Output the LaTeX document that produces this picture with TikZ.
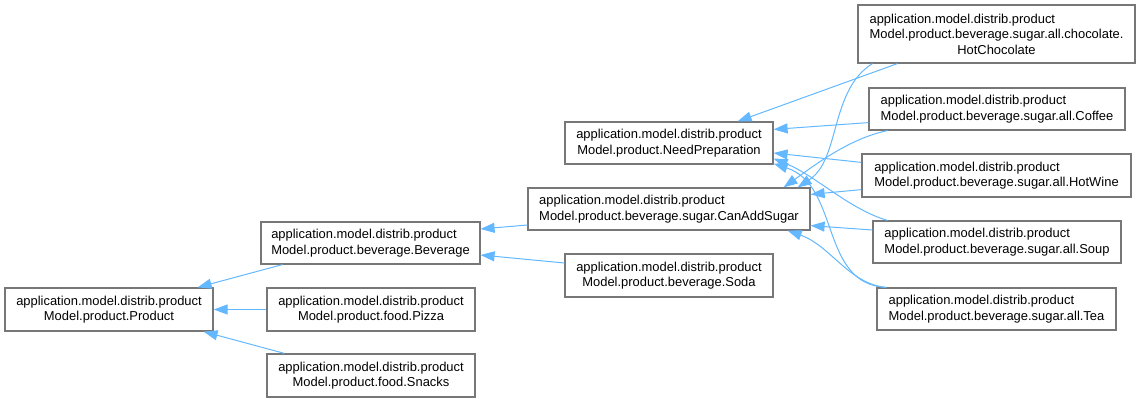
\documentclass[tikz,border=0pt]{standalone}
\usepackage{fontspec}
\setmainfont{Liberation Sans}
\usetikzlibrary{arrows.meta,calc}
\definecolor{edgeblue}{HTML}{63B8FF}
\definecolor{boxgray}{HTML}{777777}
\tikzset{
  cls/.style={rectangle, draw=boxgray, line width=0.9pt, fill=white, align=left, inner sep=0pt,
    font=\fontsize{9.7pt}{11.6pt}\selectfont},
  sz/.style 2 args={minimum width=#1*0.75pt, minimum height=#2*0.75pt},
  inherit/.style={-{Triangle[length=10.5pt, width=7.5pt]}, draw=edgeblue, line width=0.75pt}
}

\begin{document}
\begin{tikzpicture}[x=0.75pt, y=-0.75pt]
  \useasboundingbox (0,0) rectangle (1141,403);

  % left column: Product and its direct subclasses
  \node[cls,sz={208}{43}] (product) at (109,309.5) {application.model.distrib.product\\\hfil Model.product.Product};
  \node[cls,sz={219}{42}] (beverage) at (370.5,243) {application.model.distrib.product\\\hfil Model.product.beverage.Beverage};
  \node[cls,sz={208}{43}] (pizza) at (371,309.5) {application.model.distrib.product\\\hfil Model.product.food.Pizza};
  \node[cls,sz={208}{43}] (snacks) at (371,375.5) {application.model.distrib.product\\\hfil Model.product.food.Snacks};

  % middle column
  \node[cls,sz={208}{42}] (needprep) at (669,143) {application.model.distrib.product\\\hfil Model.product.NeedPreparation};
  \node[cls,sz={282}{42}] (sugar) at (669,209) {application.model.distrib.product\\\hfil Model.product.beverage.sugar.CanAddSugar};
  \node[cls,sz={208}{43}] (soda) at (669,275.5) {application.model.distrib.product\\\hfil Model.product.beverage.Soda};

  % right column: concrete drinks
  \node[cls,sz={277}{58}] (hotchoc) at (996.5,34) {application.model.distrib.product\\Model.product.beverage.sugar.all.chocolate.\\\hfil HotChocolate};
  \node[cls,sz={256}{42}] (coffee) at (997,109) {application.model.distrib.product\\\hfil Model.product.beverage.sugar.all.Coffee};
  \node[cls,sz={269}{43}] (hotwine) at (996.5,175.5) {application.model.distrib.product\\\hfil Model.product.beverage.sugar.all.HotWine};
  \node[cls,sz={248}{42}] (soup) at (997,242) {application.model.distrib.product\\\hfil Model.product.beverage.sugar.all.Soup};
  \node[cls,sz={239}{42}] (tea) at (996.5,309) {application.model.distrib.product\\\hfil Model.product.beverage.sugar.all.Tea};

  % inheritance towards Product and Beverage
  \draw[inherit] ($(beverage.south west)+(22,0)$) -- ($(product.north east)+(-16,0)$);
  \draw[inherit] (pizza.west) -- (product.east);
  \draw[inherit] ($(snacks.north west)+(18,0)$) -- ($(product.south east)+(-10,0)$);
  \draw[inherit] ($(sugar.west)+(0,16)$) -- ($(beverage.east)+(0,-14)$);
  \draw[inherit] ($(soda.west)+(0,-12.5)$) -- ($(beverage.east)+(0,12)$);

  % drinks -> NeedPreparation
  \draw[inherit] ($(hotchoc.south west)+(40,0)$) -- ($(needprep.north east)+(-36,0)$);
  \draw[inherit] ($(coffee.south west)+(0,-8)$) -- ($(needprep.north east)+(0,8)$);
  \draw[inherit] ($(hotwine.north west)+(0,9)$) -- ($(needprep.east)+(0,10)$);
  \draw[inherit] ($(soup.north west)+(15,0)$) .. controls +(-38,-11) and +(42,17) .. ($(needprep.south east)+(0,-6)$);
  \draw[inherit] ($(tea.north west)+(10,0)$) .. controls +(-67,-3) and +(67,22) .. ($(needprep.south east)+(0,-1)$);

  % drinks -> CanAddSugar
  \draw[inherit] ($(hotchoc.south west)+(15,0)$) .. controls +(-43,27) and +(43,-28) .. ($(sugar.north east)+(-13,0)$);
  \draw[inherit] ($(coffee.south west)+(19,0)$) .. controls +(-38,8) and +(32,-23) .. ($(sugar.north east)+(-27,0)$);
  \draw[inherit] ($(hotwine.south west)+(0,-8)$) -- ($(sugar.north east)+(0,7)$);
  \draw[inherit] ($(soup.west)+(0,-12)$) -- ($(sugar.south east)+(0,-5)$);
  \draw[inherit] ($(tea.north west)+(10,0)$) .. controls +(-37,-3) and +(43,15) .. ($(sugar.south east)+(-23,0)$);
\end{tikzpicture}
\end{document}
